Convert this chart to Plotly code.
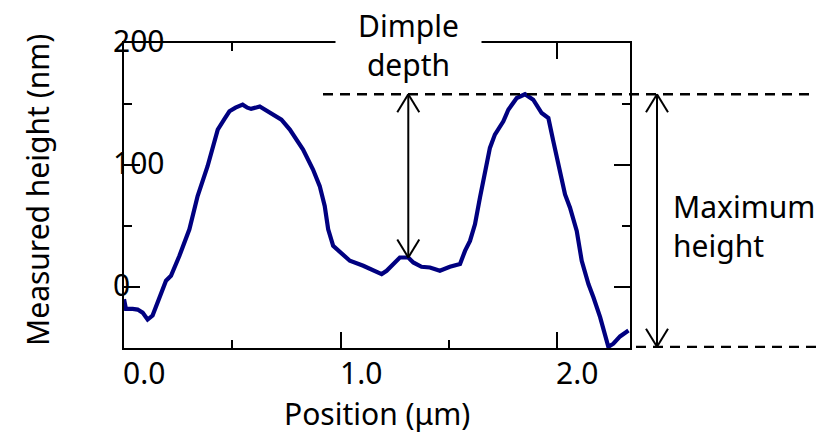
import plotly.graph_objects as go

# ---- data ----
position_um = [0.000, 0.009, 0.040, 0.063, 0.086, 0.109, 0.132, 0.163, 0.194, 0.217,
               0.256, 0.302, 0.340, 0.386, 0.433, 0.465, 0.487, 0.515, 0.548, 0.570,
               0.587, 0.627, 0.673, 0.727, 0.766, 0.827, 0.873, 0.904, 0.927, 0.943,
               0.966, 1.012, 1.043, 1.105, 1.151, 1.190, 1.213, 1.243, 1.274, 1.313,
               1.336, 1.374, 1.413, 1.459, 1.505, 1.552, 1.575, 1.598, 1.621, 1.644,
               1.667, 1.690, 1.713, 1.752, 1.775, 1.814, 1.852, 1.890, 1.929, 1.960,
               1.983, 2.014, 2.037, 2.060, 2.091, 2.114, 2.145, 2.168, 2.199, 2.237,
               2.260, 2.291, 2.330]
height_nm = [-10, -18, -18, -18.5, -21, -26.7, -23.4, -9.8, 5.1, 9.2,
             25.6, 47.3, 74.5, 99, 129, 138, 144, 147, 149.5, 147,
             146, 148, 142.6, 137.1, 129, 112.7, 96.3, 82.7, 66.4, 47.3,
             33.7, 26.9, 21.5, 17.4, 13.3, 10.6, 13.3, 18.8, 24.2, 24.2,
             20.1, 16.6, 16, 13.3, 16.6, 18.8, 29.6, 37.8, 51.4, 73.2,
             95, 114, 124.9, 135.8, 145.3, 154.9, 158, 153.5, 142.6, 138.5,
             119.4, 95, 75.9, 65, 46, 21.5, 2.4, -8.4, -24.7, -49,
             -46.5, -40.5, -35.7]

x_tick_values = [0, 1, 2]
x_tick_labels = ["0.0", "1.0", "2.0"]
y_tick_values = [0, 100, 200]
y_tick_labels = ["0", "100", "200"]

x_title = "Position (μm)"
y_title = "Measured height (nm)"
dimple_label = "Dimple<br>depth"
max_label = "Maximum<br>height"

# ---- layout geometry ----
W, H = 816, 438
M = dict(l=124, r=186, t=43, b=90)
X_RANGE = [0, 2.337]
Y_RANGE = [-50, 200]
pw = W - M["l"] - M["r"]
ph = H - M["t"] - M["b"]
px_y = ph / (Y_RANGE[1] - Y_RANGE[0])
px_x = pw / (X_RANGE[1] - X_RANGE[0])

FONT = "Noto Sans"
FS = 30
LINE_COLOR = "#000080"

top = max(height_nm)
bottom = min(height_nm)
dimple_h, dimple_x = max((h, x) for x, h in zip(position_um, height_nm) if 1.2 <= x <= 1.45)

fig = go.Figure()
fig.add_trace(go.Scatter(x=position_um, y=height_nm, mode="lines",
                         line=dict(color=LINE_COLOR, width=4.2), showlegend=False,
                         hoverinfo="skip"))

axis_common = dict(showline=True, linecolor="black", linewidth=2, mirror="ticks",
                   ticks="inside", ticklen=16, tickwidth=2, tickcolor="black",
                   showgrid=False, zeroline=False, showticklabels=False)

fig.update_xaxes(range=X_RANGE, tickmode="linear", tick0=0, dtick=1,
                 minor=dict(ticks="inside", ticklen=8, tickwidth=2, tickcolor="black", dtick=0.5),
                 **axis_common)
fig.update_yaxes(range=Y_RANGE, tickmode="linear", tick0=0, dtick=100,
                 minor=dict(ticks="inside", ticklen=8, tickwidth=2, tickcolor="black", dtick=50),
                 **axis_common)

shapes = []
dash = "10px,7px"
# dashed reference lines
shapes.append(dict(type="line", xref="paper", yref="y", x0=(323 - M["l"]) / pw, x1=(W - M["l"]) / pw,
                   y0=top, y1=top, line=dict(color="black", width=2.3, dash=dash)))
shapes.append(dict(type="line", xref="paper", yref="y", x0=(636 - M["l"]) / pw, x1=(W - M["l"]) / pw,
                   y0=bottom, y1=bottom, line=dict(color="black", width=2.3, dash=dash)))

HW, HL = 11, 18  # arrow head half width / length in px


def double_arrow(xref, xc, y_top, y_bot, dx):
    dy = HL / px_y
    out = [dict(type="line", xref=xref, yref="y", x0=xc, x1=xc, y0=y_top, y1=y_bot,
                line=dict(color="black", width=2))]
    for s in (-1, 1):
        out.append(dict(type="line", xref=xref, yref="y", x0=xc, x1=xc + s * dx,
                        y0=y_top, y1=y_top - dy, line=dict(color="black", width=2)))
        out.append(dict(type="line", xref=xref, yref="y", x0=xc, x1=xc + s * dx,
                        y0=y_bot, y1=y_bot + dy, line=dict(color="black", width=2)))
    return out


shapes += double_arrow("x", dimple_x, top, dimple_h, HW / px_x)
shapes += double_arrow("paper", (657 - M["l"]) / pw, top, bottom, HW / pw)

annotations = []
for v, t in zip(x_tick_values, x_tick_labels):
    annotations.append(dict(x=v, xref="x", y=0, yref="paper", text=t, showarrow=False,
                            xanchor="left", yanchor="middle", xshift=-3, yshift=-24,
                            font=dict(family=FONT, size=FS, color="black")))
for v, t in zip(y_tick_values, y_tick_labels):
    annotations.append(dict(x=0, xref="paper", y=v, yref="y", text=t, showarrow=False,
                            xanchor="left", yanchor="middle", xshift=-13, yshift=3,
                            font=dict(family=FONT, size=FS, color="black")))

annotations.append(dict(x=0.5, xref="paper", y=0, yref="paper", text=x_title, showarrow=False,
                        xanchor="center", yanchor="middle", yshift=-65,
                        font=dict(family=FONT, size=FS, color="black")))
annotations.append(dict(x=0, xref="paper", y=(348 - 190) / ph, yref="paper", text=y_title,
                        showarrow=False, textangle=-90, xanchor="center", yanchor="middle",
                        xshift=-87, font=dict(family=FONT, size=FS, color="black")))
annotations.append(dict(x=dimple_x, xref="x", y=1, yref="paper", text=dimple_label,
                        showarrow=False, xanchor="center", yanchor="middle", yshift=-2,
                        width=141, height=78, borderpad=2, bgcolor="white", align="center",
                        font=dict(family=FONT, size=FS, color="black")))
annotations.append(dict(x=1, xref="paper", y=(348 - 226) / ph, yref="paper", text=max_label,
                        showarrow=False, xanchor="left", yanchor="middle", xshift=41,
                        align="left", font=dict(family=FONT, size=FS, color="black")))

fig.update_layout(width=W, height=H, margin=M, paper_bgcolor="white", plot_bgcolor="white",
                  shapes=shapes, annotations=annotations, showlegend=False,
                  font=dict(family=FONT, size=FS, color="black"))

fig.write_html("out.html")
